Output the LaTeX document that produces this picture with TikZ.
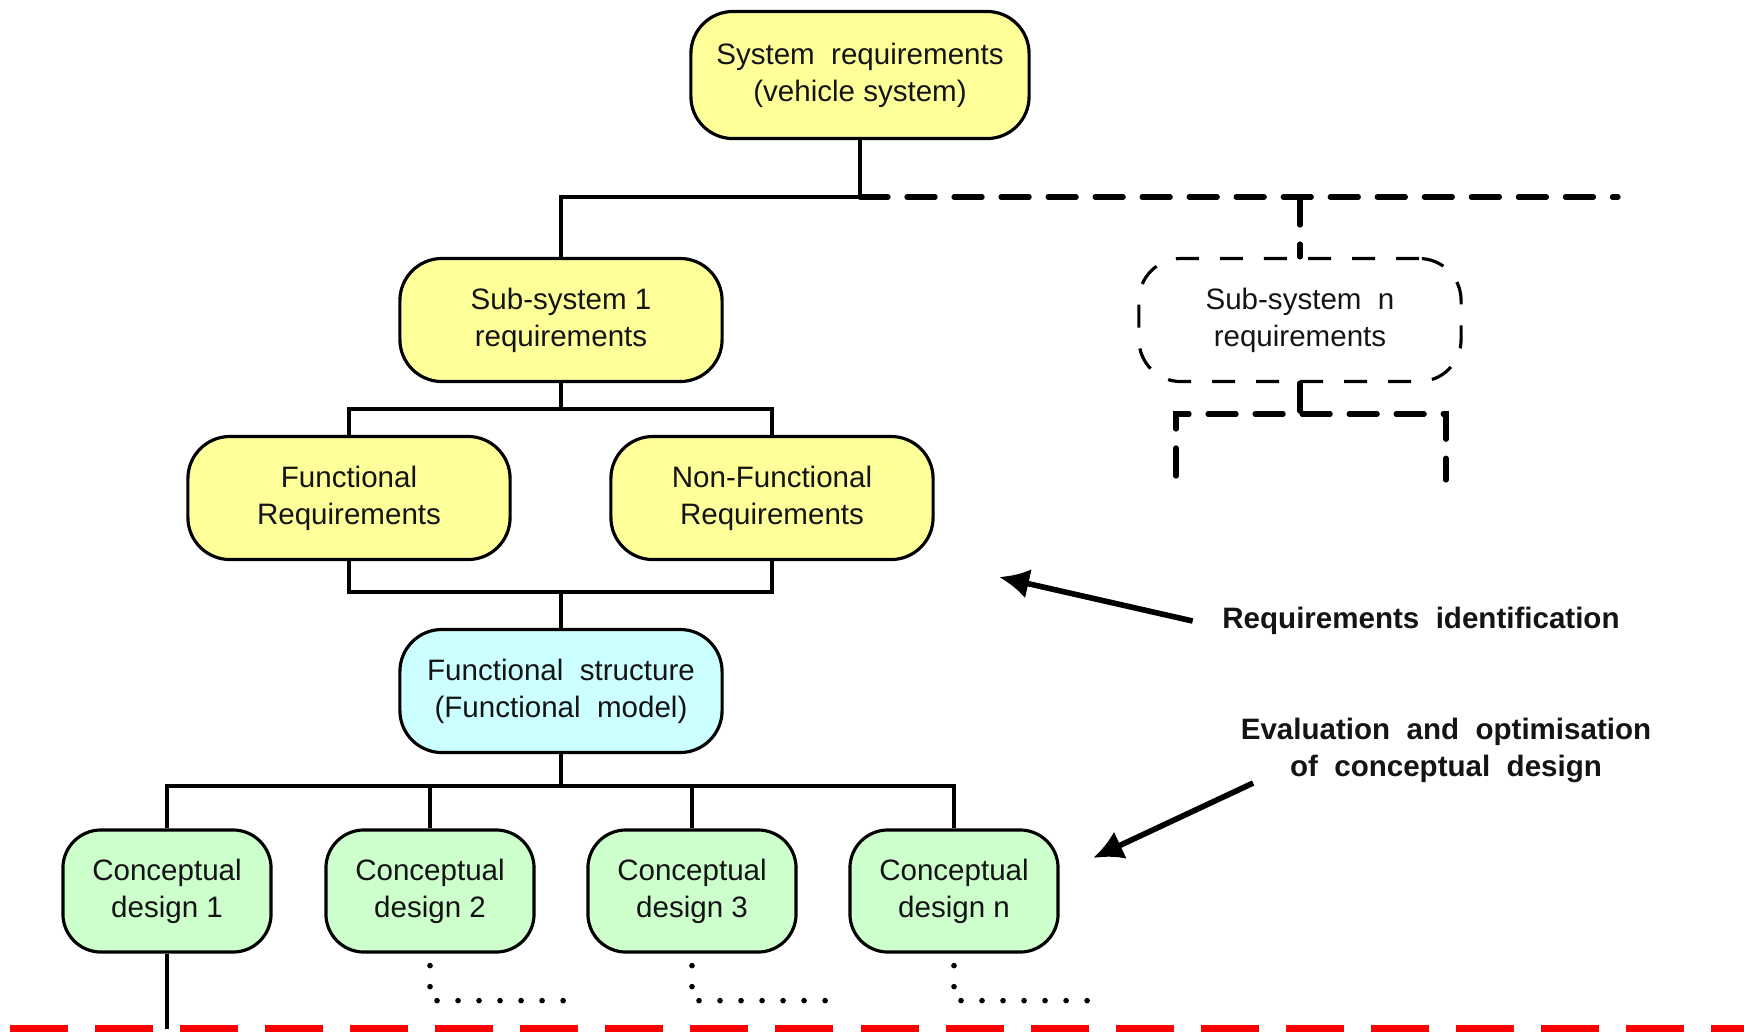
\documentclass[tikz,border=0pt]{standalone}
\usepackage{fontspec}
\setmainfont{Liberation Sans}
\usetikzlibrary{arrows.meta}
\definecolor{reqyellow}{HTML}{FFFF99}
\definecolor{modelcyan}{HTML}{CCFFFF}
\definecolor{designgreen}{HTML}{CCFFCC}
\definecolor{inkgray}{HTML}{141414}
\definecolor{cutred}{HTML}{FF0000}
\begin{document}
\begin{tikzpicture}[x=0.01cm,y=-0.01cm,
    box/.style={draw=black,line width=0.9pt,rounded corners=0.42cm,align=center,
      minimum width=3.22cm,minimum height=1.23cm,inner sep=0pt,text=inkgray,
      font=\fontsize{8.4}{10.5}\selectfont},
    reqbox/.style={box,fill=reqyellow},
    design/.style={box,fill=designgreen,minimum width=2.08cm,minimum height=1.22cm,
      rounded corners=0.38cm},
    conn/.style={line width=1.3pt},
    optional/.style={line width=1.5pt,dash pattern=on 0.28cm off 0.19cm,line cap=round},
    trail/.style={line width=1.6pt,dash pattern=on 0pt off 0.21cm,line cap=round},
    note/.style={inner sep=0pt,align=center,text=inkgray,
      font=\fontsize{8.4}{10.5}\selectfont\bfseries},
    pointer/.style={line width=1.6pt,-{Latex[length=0.3cm,width=0.3cm]}}]
  \useasboundingbox (0,0) rectangle (1744,1032);
  % Requirement boxes
  \node[reqbox,minimum width=3.38cm,minimum height=1.27cm] (sys) at (860,75)
    {System~ requirements\\(vehicle system)};
  \node[reqbox] (sub1) at (561,320) {Sub-system 1\\requirements};
  \node[box,dash pattern=on 0.23cm off 0.21cm] (subn) at (1300,320)
    {Sub-system~ n\\requirements};
  \node[reqbox] (func) at (349,498) {Functional\\Requirements};
  \node[reqbox] (nonfunc) at (772,498) {Non-Functional\\Requirements};
  % Functional model
  \node[box,fill=modelcyan] (fstruct) at (561,691)
    {Functional~ structure\\(Functional~ model)};
  % Conceptual designs
  \foreach \i/\x/\t in {1/167/1,2/430/2,3/692/3,4/954/n}
    \node[design] (cd\i) at (\x,891) {Conceptual\\design \t};
  % Bus levels and free ends
  \coordinate (topbus) at (0,197);
  \coordinate (topend) at (1618,197);
  \coordinate (subnbus) at (0,414);
  \coordinate (subnleft) at (1176,476);
  \coordinate (subnright) at (1446,480);
  \coordinate (reqbus) at (0,409);
  \coordinate (mergebus) at (0,592);
  \coordinate (structbus) at (0,786);
  \coordinate (cutline) at (0,1028.5);
  % Tree connectors
  \draw[conn] (sys.south) -- (sys.south |- topbus) -| (sub1.north);
  \draw[optional] (sys.south |- topbus) -- (topend);
  \draw[optional] (subn.north |- topbus) -- (subn.north);
  \draw[optional] (subn.south) -- (subn.south |- subnbus);
  \draw[optional] (subnleft) |- (subn.south |- subnbus) -| (subnright);
  \draw[conn] (sub1.south) -- (sub1.south |- reqbus);
  \draw[conn] (func.north) |- (sub1.south |- reqbus) -| (nonfunc.north);
  \draw[conn] (func.south) |- (fstruct.north |- mergebus) -| (nonfunc.south);
  \draw[conn] (fstruct.north |- mergebus) -- (fstruct.north);
  \draw[conn] (fstruct.south) -- (fstruct.south |- structbus);
  \draw[conn] (cd1.north) |- (cd4.north |- structbus) -- (cd4.north);
  \foreach \i in {2,3}
    \draw[conn] (cd\i.north) -- (cd\i.north |- structbus);
  \draw[line width=0.9pt] (cd1.south) -- (cd1.south |- cutline);
  % Unfinished branches
  \foreach \i in {2,3,4}
    \draw[trail] (cd\i.south) ++(0,12) |- ++(143,35);
  % Notes with pointers
  \node[note] (reqid) at (1421,621) {Requirements~ identification};
  \node[note] (evalopt) at (1446,750)
    {Evaluation~ and~ optimisation\\of~ conceptual~ design};
  \coordinate (reqtip) at (999,577);
  \coordinate (evaltip) at (1093,858);
  \draw[pointer] ([xshift=-0.29cm]reqid.west) -- (reqtip);
  \draw[pointer] ([xshift=0.13cm]evalopt.south west) -- (evaltip);
  % Red cut line
  \draw[cutred,line width=0.07cm,dash pattern=on 0.58cm off 0.27cm,dash phase=-0.1cm]
    (cutline) -- (cutline -| topend) -- ++(126,0);
\end{tikzpicture}
\end{document}
